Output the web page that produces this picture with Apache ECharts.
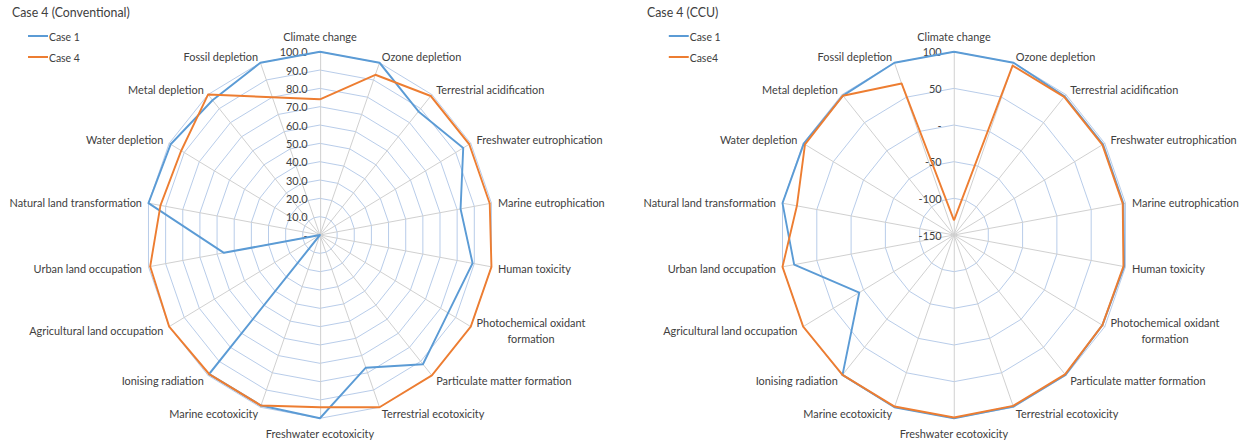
<!DOCTYPE html>
<html>
<head>
<meta charset="utf-8">
<script src="https://cdn.jsdelivr.net/npm/echarts@6/dist/echarts.min.js"></script>
<style>
  html, body { margin: 0; padding: 0; background: #ffffff; overflow: hidden; }
  #wrap { width: 1245px; height: 444px; overflow: hidden; }
  /* the panels are drawn slightly wider than the page and squeezed horizontally */
  #chart { width: 1310.5px; height: 444px; transform: scaleX(0.95); transform-origin: 0 0; }
</style>
</head>
<body>
<div id="wrap"><div id="chart"></div></div>
<script>
// Impact categories, clockwise from the top
const categories = [
  'Climate change', 'Ozone depletion', 'Terrestrial acidification', 'Freshwater eutrophication',
  'Marine eutrophication', 'Human toxicity', 'Photochemical oxidant formation',
  'Particulate matter formation', 'Terrestrial ecotoxicity', 'Freshwater ecotoxicity',
  'Marine ecotoxicity', 'Ionising radiation', 'Agricultural land occupation',
  'Urban land occupation', 'Natural land transformation', 'Water depletion',
  'Metal depletion', 'Fossil depletion'
];

// Case 4 (Conventional), normalised scores
const conventionalCase1 = [100, 100, 88, 95, 82, 89, 85, 92, 77, 100, 99, 99, 0, 56, 100, 99, 96, 100];
const conventionalCase4 = [74, 93, 99, 99, 99, 100, 100, 100, 100, 94, 99, 99, 100, 99, 93, 92, 100, 80];

// Case 4 (CCU), normalised scores
const ccuCase1 = [100, 100, 97, 97, 97, 98, 96, 99, 99, 100, 100, 99, 7, 83, 100, 99, 98, 100];
const ccuCase4 = [-130, 96, 96, 96, 96, 97, 96, 98, 98, 99, 99, 99, 100, 100, 79, 97, 98, 70];

// Radial scales
const conventionalRange = { min: 0, max: 100, splitNumber: 10 };
const ccuRange = { min: -150, max: 100, splitNumber: 5 };

const panelTitles = ['Case 4 (Conventional)', 'Case 4 (CCU)'];
const legendConventional = ['Case 1', 'Case 4'];
const legendCcu = ['Case 1', 'Case4'];

const BLUE = '#5b9bd5';
const ORANGE = '#ed7d31';
const FONT = 'Lato, "Open Sans", sans-serif';
const TEXT = '#404040';

// ECharts lays radar axes out counter-clockwise; walk the list so it reads clockwise
const order = [0].concat(categories.slice(1).map(function (_, i) { return categories.length - 1 - i; }));
function clockwise(arr) { return order.map(function (i) { return arr[i]; }); }

function makeIndicators(range, labelFormatter) {
  return clockwise(categories).map(function (name, i) {
    const ind = { name: name, min: range.min, max: range.max };
    if (i === 0) {
      ind.axisLabel = { show: true, formatter: labelFormatter };
    }
    return ind;
  });
}

function nameFormatter(name) {
  if (name === 'Photochemical oxidant formation') {
    return 'Photochemical oxidant\n{c|formation}';
  }
  return name;
}

function radarBase(center, range, fmt) {
  return {
    center: center,
    radius: 183.3,
    startAngle: 90,
    shape: 'polygon',
    splitNumber: range.splitNumber,
    indicator: makeIndicators(range, fmt),
    nameGap: 7,
    axisName: {
      color: TEXT, fontFamily: FONT, fontSize: 11.5, lineHeight: 16,
      formatter: nameFormatter,
      rich: { c: { align: 'center', color: TEXT, fontFamily: FONT, fontSize: 11.5, lineHeight: 16 } }
    },
    axisLine: { lineStyle: { color: '#cfcfcf', width: 1 } },
    splitLine: { lineStyle: { color: '#b6cbe8', width: 1 } },
    splitArea: { show: false },
    axisTick: { show: false },
    axisLabel: { show: false, color: TEXT, fontFamily: FONT, fontSize: 11.5, margin: 13 }
  };
}

function legendBase(data, left) {
  return {
    data: data, left: left, top: 30, orient: 'vertical', padding: 0,
    icon: 'rect', itemWidth: 21, itemHeight: 2, itemGap: 9, selectedMode: false,
    textStyle: { color: TEXT, fontFamily: FONT, fontSize: 11, lineHeight: 12, padding: [0, 0, 0, -4] }
  };
}

const chart = echarts.init(document.getElementById('chart'), null, { renderer: 'svg' });

chart.setOption({
  backgroundColor: '#ffffff',
  animation: false,
  title: [
    { text: panelTitles[0], left: 12.6, top: 5, padding: 0,
      textStyle: { color: TEXT, fontFamily: FONT, fontSize: 13, fontWeight: 'normal' } },
    { text: panelTitles[1], left: 681, top: 5, padding: 0,
      textStyle: { color: TEXT, fontFamily: FONT, fontSize: 13, fontWeight: 'normal' } }
  ],
  legend: [
    legendBase(legendConventional, 29.5),
    legendBase(legendCcu, 704)
  ],
  radar: [
    radarBase([336.8, 235], conventionalRange, function (v) { return v === 0 ? '-' : v.toFixed(1); }),
    radarBase([1004.2, 235], ccuRange, function (v) { return v === 0 ? '-' : String(v); })
  ],
  series: [
    {
      type: 'radar', radarIndex: 0, symbol: 'none',
      data: [
        { name: legendConventional[0], value: clockwise(conventionalCase1), lineStyle: { color: BLUE, width: 2 }, itemStyle: { color: BLUE } },
        { name: legendConventional[1], value: clockwise(conventionalCase4), lineStyle: { color: ORANGE, width: 2 }, itemStyle: { color: ORANGE } }
      ]
    },
    {
      type: 'radar', radarIndex: 1, symbol: 'none',
      data: [
        { name: legendCcu[0], value: clockwise(ccuCase1), lineStyle: { color: BLUE, width: 2 }, itemStyle: { color: BLUE } },
        { name: legendCcu[1], value: clockwise(ccuCase4), lineStyle: { color: ORANGE, width: 2 }, itemStyle: { color: ORANGE } }
      ]
    }
  ]
});
</script>
</body>
</html>
